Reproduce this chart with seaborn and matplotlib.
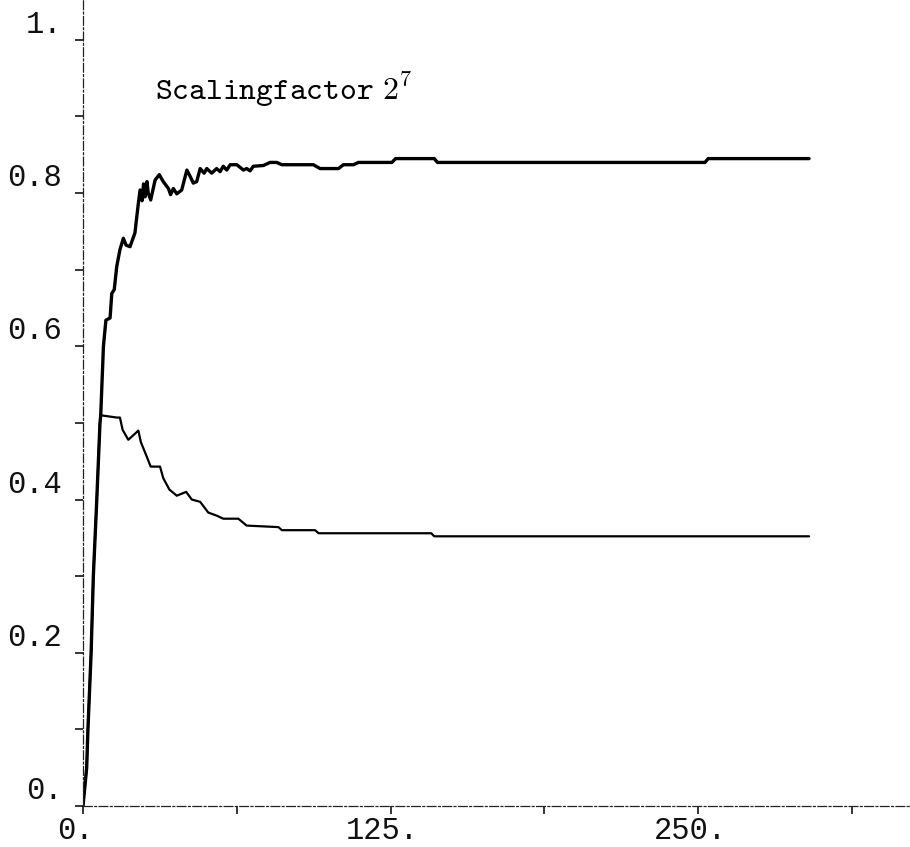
import numpy as np
import pandas as pd
import seaborn as sns
import matplotlib.pyplot as plt
import matplotlib.transforms as mtransforms
from matplotlib.ticker import FixedLocator, FixedFormatter

# values
upper_x = [0, 1.5, 2.0, 3.3, 4.2, 5.6, 6.9, 7.2, 8.3, 9.3, 11.0, 11.7, 12.7, 13.7,
           15.0, 16.4, 17.5, 19.1, 21.1, 22.5, 23.2, 24.0, 24.6, 25.2, 26.0, 26.5,
           27.5, 29.3, 31.0, 32.6, 34.7, 35.6, 36.7, 38.1, 40.1, 42.2, 43.5, 44.8,
           46.2, 47.6, 49.2, 50.3, 52.3, 54.3, 55.7, 57.0, 58.4, 59.8, 62.5, 65.2,
           66.5, 67.9, 69.2, 73.3, 76.0, 78.7, 80.8, 93.6, 96.3, 103.8, 105.8, 109.9,
           111.9, 125.5, 127.0, 142.7, 144.0, 252.7, 254.0, 295.0]
upper_y = [0.0, 0.05, 0.10, 0.20, 0.30, 0.40, 0.50, 0.51, 0.600, 0.634, 0.637, 0.669,
           0.674, 0.704, 0.726, 0.741, 0.732, 0.730, 0.748, 0.787, 0.804, 0.790, 0.812,
           0.795, 0.815, 0.800, 0.791, 0.817, 0.824, 0.815, 0.806, 0.798, 0.806, 0.799,
           0.804, 0.830, 0.822, 0.813, 0.815, 0.832, 0.826, 0.832, 0.826, 0.832, 0.828,
           0.835, 0.830, 0.837, 0.837, 0.830, 0.832, 0.829, 0.835, 0.836, 0.840, 0.840,
           0.837, 0.837, 0.832, 0.832, 0.837, 0.837, 0.840, 0.840, 0.845, 0.845, 0.840,
           0.840, 0.845, 0.845]

lower_x = [0, 1.5, 2.0, 3.3, 4.2, 5.6, 6.9, 7.2, 13.7, 15.0, 16.1, 18.4, 22.5, 23.5,
           25.9, 27.5, 31.3, 32.6, 35.1, 38.1, 41.9, 44.2, 47.6, 50.9, 54.3, 57.0,
           63.1, 66.5, 79.4, 80.8, 94.3, 95.7, 141.5, 142.7, 295.0]
lower_y = [0.0, 0.05, 0.10, 0.20, 0.30, 0.40, 0.50, 0.510, 0.507, 0.507, 0.491, 0.478,
           0.490, 0.475, 0.456, 0.443, 0.443, 0.428, 0.413, 0.405, 0.410, 0.400, 0.397,
           0.383, 0.379, 0.375, 0.375, 0.366, 0.364, 0.360, 0.360, 0.356, 0.356, 0.352,
           0.352]

y_ticks = [0.0, 0.2, 0.4, 0.6, 0.8, 1.0]
y_labels = ["0.", "0.2", "0.4", "0.6", "0.8", "1."]
y_minor = [0.1, 0.3, 0.5, 0.7, 0.9]
x_ticks = [0, 125, 250]
x_labels = ["0.", "125.", "250."]
x_minor = [62.5, 187.5, 312.5]

sns.set_theme(style="white")
plt.rcParams['font.family'] = ['Liberation Mono', 'DejaVu Sans Mono']
plt.rcParams['mathtext.fontset'] = 'cm'

fig = plt.figure(figsize=(9.1, 8.47), dpi=100)
ax = fig.add_axes([83 / 910, 41 / 847, 827 / 910, 806 / 847])

sns.lineplot(x=upper_x, y=upper_y, ax=ax, color='black', lw=2.4, estimator=None, sort=False)
sns.lineplot(x=lower_x, y=lower_y, ax=ax, color='black', lw=1.6, estimator=None, sort=False)

ax.set_xlim(0, 336)
ax.set_ylim(0, 1.052)

sns.despine(ax=ax)
for side in ['left', 'bottom']:
    ax.spines[side].set_color('#222222')
    ax.spines[side].set_linewidth(0.9)
    ax.spines[side].set_linestyle((0, (7, 2, 1.5, 2)))

ax.yaxis.set_major_locator(FixedLocator(y_ticks))
ax.yaxis.set_major_formatter(FixedFormatter(y_labels))
ax.yaxis.set_minor_locator(FixedLocator(y_minor))
ax.xaxis.set_major_locator(FixedLocator(x_ticks))
ax.xaxis.set_major_formatter(FixedFormatter(x_labels))
ax.xaxis.set_minor_locator(FixedLocator(x_minor))

ax.tick_params(axis='both', which='both', direction='out', length=6, width=1.1,
               color='black', left=True, bottom=True, labelsize=22, labelcolor='#111111')
ax.tick_params(axis='y', which='major', pad=9)
ax.tick_params(axis='x', which='major', pad=1)

for lab in ax.get_yticklabels():
    lab.set_verticalalignment('bottom')
shift = mtransforms.ScaledTranslation(-8 / 100, 0, fig.dpi_scale_trans)
for lab in ax.get_xticklabels():
    lab.set_transform(lab.get_transform() + shift)

ax.text(0.087, 0.876, r"$\mathtt{Scalingfactor\ 2}^{\mathtt{7}}$", transform=ax.transAxes,
        fontsize=23, ha='left', va='baseline', color='black')

fig.savefig('out.png', dpi=100)
